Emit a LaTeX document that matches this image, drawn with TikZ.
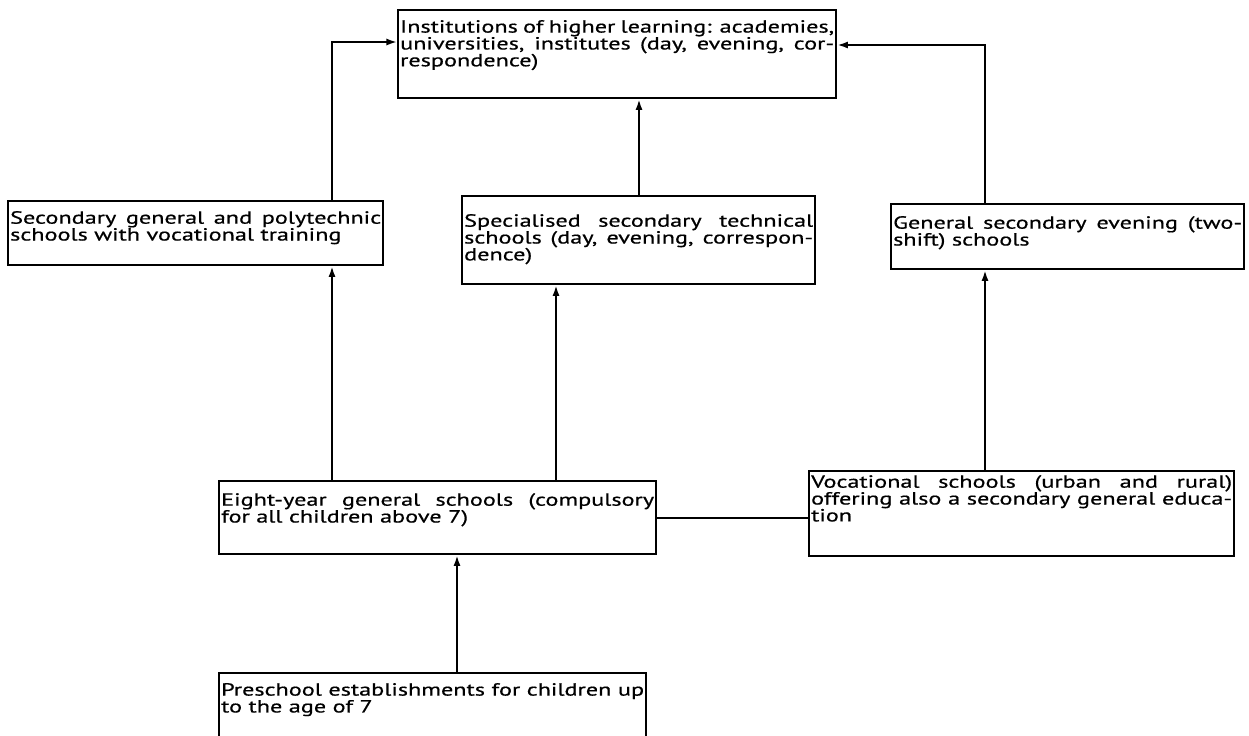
\documentclass[tikz,border=0pt]{standalone}
\usepackage{fontspec}
\setmainfont{PT Sans}[FakeStretch=1.38,FakeBold=0.6]
\usetikzlibrary{arrows.meta}

\newlength\px
\setlength\px{0.02cm}
% a justified line, a last line
\newcommand\jline[1]{\hbox to\linewidth{#1}}
\newcommand\lline[1]{\hbox{#1}}
% width, height, top gap, lines
\newcommand\boxtxt[4]{\parbox[c][#2\px][t]{#1\px}{\vspace*{#3\px}#4}}

\begin{document}
\begin{tikzpicture}[x=0.02cm,y=-0.02cm,
  stage/.style={draw, line width=1.3pt, inner xsep=2\px, inner ysep=0pt,
    anchor=north west, font=\fontsize{10}{9.6}\selectfont},
  link/.style={line width=1.1pt},
  up/.style={link, -{Latex[length=6pt,width=4pt]}}]
  \clip (0,0) rectangle (1249,735);
  \fill[white] (0,0) rectangle (1249,735);

  % boxes
  \node[stage] (high) at (397,9) {\boxtxt{434}{88}{10}{%
    \jline{Institutions of higher learning: academies,}
    \jline{universities, institutes (day, evening, cor-}
    \lline{respondence)}}};
  \node[stage] (secgen) at (7,200) {\boxtxt{371}{64}{10}{%
    \jline{Secondary general and polytechnic}
    \lline{schools with vocational training}}};
  \node[stage] (spec) at (461,195) {\boxtxt{349}{88}{18}{%
    \jline{Specialised secondary technical}
    \jline{schools (day, evening, correspon-}
    \lline{dence)}}};
  \node[stage] (evening) at (890,203) {\boxtxt{349}{65}{12}{%
    \jline{General secondary evening (two-}
    \lline{shift) schools}}};
  \node[stage] (eight) at (218,480) {\boxtxt{433}{73}{12}{%
    \jline{Eight-year general schools (compulsory}
    \lline{for all children above 7)}}};
  \node[stage] (voc) at (808,470) {\boxtxt{421}{85}{4}{%
    \jline{Vocational schools (urban and rural)}
    \jline{offering also a secondary general educa-}
    \lline{tion}}};
  \node[stage] (pre) at (218,672) {\boxtxt{423}{100}{10}{%
    \jline{Preschool establishments for children up}
    \lline{to the age of 7}}};

  % columns and rows of the connectors
  \coordinate (colA) at (332,0);
  \coordinate (colB) at (556,0);
  \coordinate (colC) at (639,0);
  \coordinate (colD) at (985,0);
  \coordinate (colF) at (457,0);
  \coordinate (rowL) at (0,42);
  \coordinate (rowR) at (0,45);

  % connectors
  \draw[up] (eight.north -| colA) -- (secgen.south -| colA);
  \draw[up] (secgen.north -| colA) |- (high.west |- rowL);
  \draw[up] (eight.north -| colB) -- (spec.south -| colB);
  \draw[up] (spec.north -| colC) -- (high.south -| colC);
  \draw[up] (voc.north -| colD) -- (evening.south -| colD);
  \draw[up] (evening.north -| colD) |- (high.east |- rowR);
  \draw[link] (eight.east) -- (voc.west |- eight.east);
  \draw[up] (pre.north -| colF) -- (eight.south -| colF);
\end{tikzpicture}
\end{document}
